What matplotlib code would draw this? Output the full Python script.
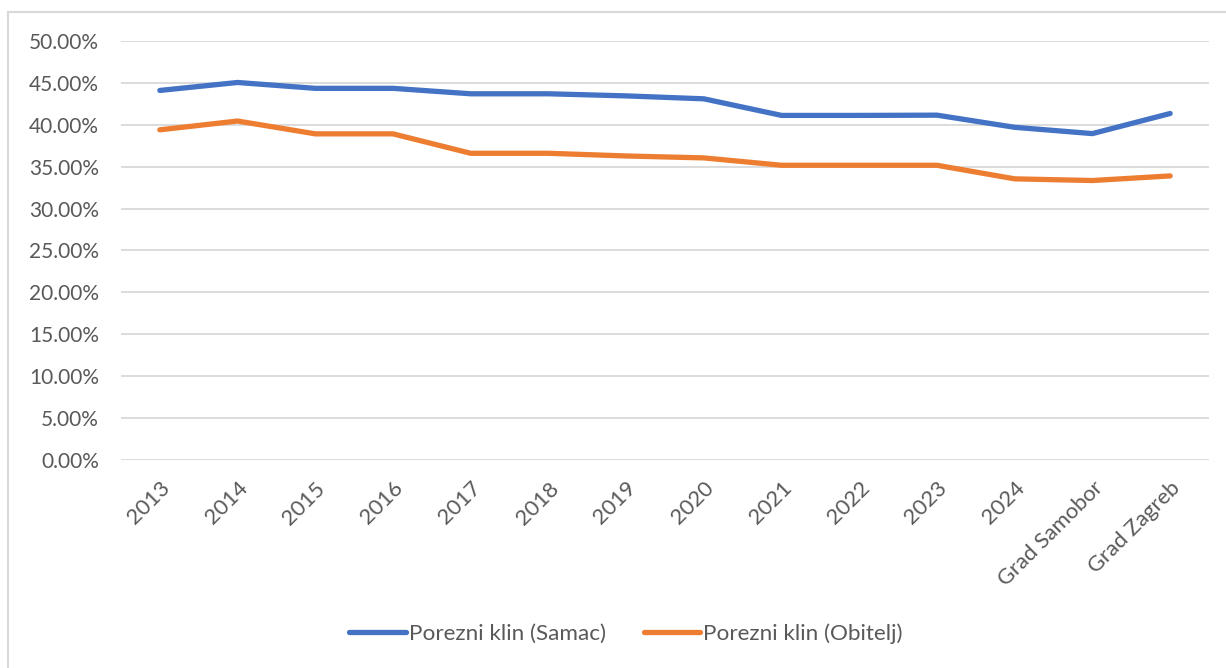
import matplotlib

matplotlib.use("Agg")
import matplotlib.pyplot as plt
from matplotlib.lines import Line2D
from matplotlib.ticker import FuncFormatter, MultipleLocator

CATEGORIES = ["2013", "2014", "2015", "2016", "2017", "2018", "2019", "2020",
              "2021", "2022", "2023", "2024", "Grad Samobor", "Grad Zagreb"]
SAMAC = [44.1, 45.05, 44.35, 44.35, 43.7, 43.7, 43.45, 43.1,
         41.12, 41.12, 41.15, 39.7, 38.95, 41.35]
OBITELJ = [39.4, 40.45, 38.92, 38.92, 36.6, 36.6, 36.28, 36.05,
           35.17, 35.17, 35.17, 33.55, 33.35, 33.9]

BLUE = "#4472C4"
ORANGE = "#ED7D31"
GRID = "#D9D9D9"
TEXT = "#595959"
FS = 15

plt.rcParams["font.family"] = ["Lato", "DejaVu Sans"]

W, H = 1226, 668
fig = plt.figure(figsize=(W / 100, H / 100), dpi=100)
ax = fig.add_axes([121 / W, 1 - 460 / H, (1209 - 121) / W, (460 - 41) / H])

x = range(len(CATEGORIES))
ax.plot(x, SAMAC, color=BLUE, lw=3.8, solid_capstyle="round", label="Porezni klin (Samac)")
ax.plot(x, OBITELJ, color=ORANGE, lw=3.8, solid_capstyle="round", label="Porezni klin (Obitelj)")

ax.set_xlim(-0.5, len(CATEGORIES) - 0.5)
ax.set_ylim(0, 50)
ax.yaxis.set_major_locator(MultipleLocator(5))
ax.yaxis.set_major_formatter(FuncFormatter(lambda v, _: f"{v:.2f}%"))
ax.grid(axis="y", color=GRID, lw=1.3)
ax.set_axisbelow(True)
for s in ax.spines.values():
    s.set_visible(False)
ax.tick_params(length=0, labelsize=FS, labelcolor=TEXT)
ax.tick_params(axis="y", pad=16)
ax.set_xticks(list(x))
ax.set_xticklabels(CATEGORIES, rotation=45, ha="right", rotation_mode="anchor",
                   fontsize=15.8)
ax.tick_params(axis="x", pad=13)

# chart border (top and left visible)
fig.add_artist(Line2D([8 / W, 8 / W], [0, 1 - 12 / H], color=GRID, lw=1.5))
fig.add_artist(Line2D([8 / W, 1], [1 - 12 / H, 1 - 12 / H], color=GRID, lw=1.5))

handles = [Line2D([], [], color=BLUE, lw=3.8, solid_capstyle="round"),
           Line2D([], [], color=ORANGE, lw=3.8, solid_capstyle="round")]
fig.legend(handles, ["Porezni klin (Samac)", "Porezni klin (Obitelj)"],
           loc="center", bbox_to_anchor=(626 / W, 1 - 634 / H), ncol=2,
           frameon=False, fontsize=16.2, labelcolor=TEXT,
           handlelength=2.5, handletextpad=0.13, columnspacing=1.7)

fig.savefig("out.png", dpi=100)
